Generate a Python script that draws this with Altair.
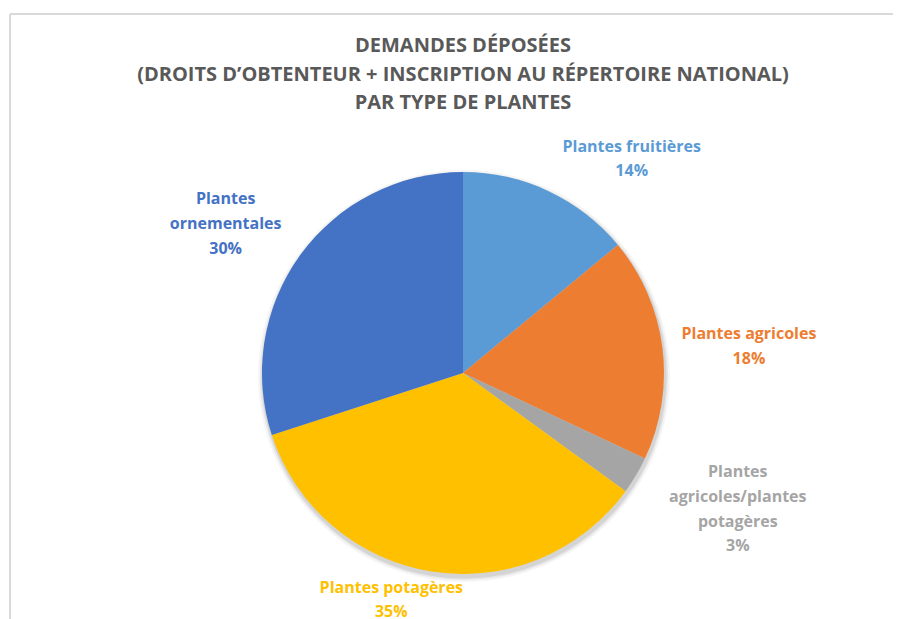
import altair as alt
import pandas as pd

categories = ["Plantes fruitières", "Plantes agricoles", "Plantes agricoles/plantes potagères",
              "Plantes potagères", "Plantes ornementales"]
label_lines = ["Plantes fruitières\n14%", "Plantes agricoles\n18%",
               "Plantes\nagricoles/plantes\npotagères\n3%",
               "Plantes potagères\n35%", "Plantes\nornementales\n30%"]
values = [14, 18, 3, 35, 30]
colors = ["#5B9BD5", "#ED7D31", "#A5A5A5", "#FFC000", "#4472C4"]
title_text = "DEMANDES DÉPOSÉES\n(DROITS D’OBTENTEUR + INSCRIPTION AU RÉPERTOIRE NATIONAL)\nPAR TYPE DE PLANTES"

df = pd.DataFrame({"cat": categories, "label": label_lines, "value": values,
                   "order": list(range(len(categories)))})
title_df = pd.DataFrame({"t": [title_text]})

FONT = "Open Sans"
CX, CY, R = 455, 365, 201

color_scale = alt.Scale(domain=categories, range=colors)

shadows = []
for extra, op in [(5, 0.04), (3, 0.06), (1.5, 0.08)]:
    shadows.append(alt.Chart(df).mark_arc(outerRadius=R + extra, color="#000000", opacity=op).encode(
        theta=alt.Theta("value:Q", stack=True),
        order=alt.Order("order:Q"),
        x=alt.value(CX + 1), y=alt.value(CY + 3),
    ))

pie = alt.Chart(df).mark_arc(outerRadius=R).encode(
    theta=alt.Theta("value:Q", stack=True),
    order=alt.Order("order:Q"),
    color=alt.Color("cat:N", scale=color_scale, legend=None),
    x=alt.value(CX), y=alt.value(CY),
)

base_lab = alt.Chart(df).transform_window(
    cum="sum(value)", sort=[alt.SortField("order")]
).transform_calculate(mid="datum.cum - datum.value/2")

# per-label offsets (Excel best-fit placement)
offsets = {
    "Plantes fruitières": (58, 9),
    "Plantes agricoles": (28, -6),
    "Plantes agricoles/plantes potagères": (51, -33),
    "Plantes potagères": (-31, -42),
    "Plantes ornementales": (-27, -21),
}
labels = []
for c in categories:
    dx, dy = offsets[c]
    labels.append(
        base_lab.transform_filter(alt.datum.cat == c).mark_text(
            font=FONT, fontSize=16, fontWeight="bold", lineBreak="\n",
            lineHeight=24.7, align="center", baseline="middle", dx=dx, dy=dy,
        ).encode(
            theta=alt.Theta("mid:Q", stack=False, scale=alt.Scale(domain=[0, 100], range=[0, 6.283185307])),
            radius=alt.value(260),
            text="label:N",
            color=alt.Color("cat:N", scale=color_scale, legend=None),
            x=alt.value(CX), y=alt.value(CY),
        )
    )

title = alt.Chart(title_df).mark_text(
    font=FONT, fontSize=20, fontWeight="bold", color="#595959", lineBreak="\n",
    lineHeight=28.5, align="center", baseline="middle",
).encode(text="t:N", x=alt.value(455), y=alt.value(38))

border_top = alt.Chart(df).mark_rule(color="#D9D9D9", strokeWidth=2).encode(
    x=alt.value(2), x2=alt.value(900), y=alt.value(6))
border_left = alt.Chart(df).mark_rule(color="#D9D9D9", strokeWidth=2).encode(
    x=alt.value(2), y=alt.value(6), y2=alt.value(700))

chart = alt.layer(border_top, border_left, *shadows, pie, *labels, title).properties(
    width=885, height=611,
    padding=0,
    autosize=alt.AutoSizeParams(type="none"),
).configure_view(stroke=None)

chart.save("out.html", embed_options={"renderer": "svg", "actions": False})
